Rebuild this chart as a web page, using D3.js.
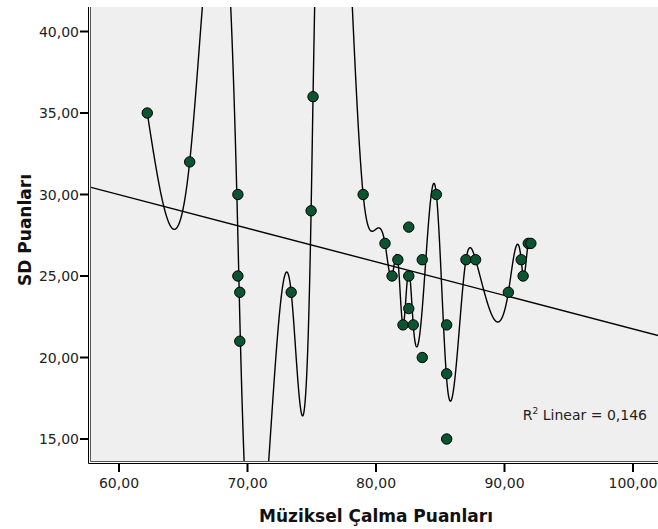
<!DOCTYPE html>
<html>
<head>
<meta charset="utf-8">
<script src="https://cdn.jsdelivr.net/npm/d3@7"></script>
<style>
    body { margin: 0; background: #fff; }
    svg { display: block; }
    .tick-label { font-family: 'DejaVu Sans', sans-serif; font-size: 14px; fill: #222; }
    .axis-title { font-family: 'DejaVu Sans', sans-serif; font-size: 17px; font-weight: bold; fill: #111; }
</style>
</head>
<body>
<script>

// Müziksel Çalma Puanları (x) and SD Puanları (y), one entry per student.
const playingScores = [62.2, 65.5, 69.25, 69.25, 69.4, 69.4, 73.4, 74.95, 75.1, 79.0, 80.7, 81.25, 81.7, 82.1,
    82.55, 82.55, 82.55, 82.9, 83.6, 83.6, 84.7, 85.5, 85.5, 85.5, 87.0, 87.75, 90.3, 91.3, 91.45, 91.85, 92.05];
const sdScores = [35, 32, 30, 25, 24, 21, 24, 29, 36, 30, 27, 25, 26, 22,
    28, 25, 23, 22, 26, 20, 30, 22, 19, 15, 26, 26, 24, 26, 25, 27, 27];

const xTicks = [60, 70, 80, 90, 100];
const yTicks = [15, 20, 25, 30, 35, 40];
const rSquaredLabel = '0,146';

const width = 658;
const height = 529;

const plot = { left: 90, right: 660, top: 7, bottom: 462 };

const x = d3.scaleLinear().domain([60, 100]).range([119, 633]);
const y = d3.scaleLinear().domain([15, 40]).range([439, 31.5]);

const fmt = v => d3.format('.2f')(v).replace('.', ',');

/**
 * Natural cubic spline through knots (duplicate x values averaged).
 * @param {Array} xs
 * @param {Array} ys
 * @return {Function}
 */
const naturalSpline = (xs, ys) => {

    const groups = d3.rollups(xs.map((v, i) => [v, ys[i]]), g => d3.mean(g, d => d[1]), d => d[0])
        .sort((a, b) => a[0] - b[0]);

    const kx = groups.map(d => d[0]);
    const ky = groups.map(d => d[1]);
    const n = kx.length - 1;

    const h = d3.range(n).map(i => kx[i + 1] - kx[i]);

    // Tridiagonal system for the second derivatives, ends held at zero.
    const a = new Array(n + 1).fill(0);
    const b = new Array(n + 1).fill(1);
    const c = new Array(n + 1).fill(0);
    const r = new Array(n + 1).fill(0);

    for (let i = 1; i < n; i++) {
        a[i] = h[i - 1];
        b[i] = 2 * (h[i - 1] + h[i]);
        c[i] = h[i];
        r[i] = 6 * ((ky[i + 1] - ky[i]) / h[i] - (ky[i] - ky[i - 1]) / h[i - 1]);
    }

    for (let i = 1; i <= n; i++) {
        const m = a[i] / b[i - 1];
        b[i] -= m * c[i - 1];
        r[i] -= m * r[i - 1];
    }

    const M = new Array(n + 1).fill(0);
    M[n] = r[n] / b[n];
    for (let i = n - 1; i >= 0; i--) M[i] = (r[i] - c[i] * M[i + 1]) / b[i];

    const f = t => {
        let i = Math.min(n - 1, Math.max(0, d3.bisectRight(kx, t) - 1));
        const hi = h[i];
        const u = kx[i + 1] - t;
        const v = t - kx[i];
        return M[i] * u * u * u / (6 * hi) + M[i + 1] * v * v * v / (6 * hi)
            + (ky[i] / hi - M[i] * hi / 6) * u + (ky[i + 1] / hi - M[i + 1] * hi / 6) * v;
    };

    f.domain = [kx[0], kx[n]];
    f.knots = kx;

    return f;

};

const svg = d3.select('body').append('svg').attr('width', width).attr('height', height);

svg.append('defs').append('clipPath').attr('id', 'plot-clip')
    .append('rect')
    .attr('x', plot.left).attr('y', plot.top)
    .attr('width', plot.right - plot.left).attr('height', plot.bottom - plot.top);

// Plot background.
svg.append('rect')
    .attr('x', plot.left).attr('y', plot.top)
    .attr('width', plot.right - plot.left).attr('height', plot.bottom - plot.top)
    .attr('fill', '#efefef');

const inner = svg.append('g').attr('clip-path', 'url(#plot-clip)');

// Least squares line.
const mx = d3.mean(playingScores);
const my = d3.mean(sdScores);
const slope = d3.sum(playingScores, (v, i) => (v - mx) * (sdScores[i] - my)) / d3.sum(playingScores, v => (v - mx) ** 2);
const intercept = my - slope * mx;
const [x0, x1] = [x.invert(plot.left), x.invert(plot.right)];

inner.append('line')
    .attr('x1', x(x0)).attr('y1', y(intercept + slope * x0))
    .attr('x2', x(x1)).attr('y2', y(intercept + slope * x1))
    .attr('stroke', '#000').attr('stroke-width', 1.4);

// Interpolation line through the points.
const spline = naturalSpline(playingScores, sdScores);
const samples = [];
for (let i = 0; i < spline.knots.length - 1; i++) {
    const [s, e] = [spline.knots[i], spline.knots[i + 1]];
    const steps = Math.max(20, Math.ceil((e - s) / 0.004));
    for (let k = 0; k < steps; k++) samples.push(s + (e - s) * k / steps);
}
samples.push(spline.domain[1]);

const line = d3.line()
    .x(d => x(d))
    .y(d => Math.max(-3000, Math.min(3000, y(spline(d)))));

inner.append('path')
    .attr('d', line(samples))
    .attr('fill', 'none')
    .attr('stroke', '#000')
    .attr('stroke-width', 1.4);

inner.selectAll('circle').data(playingScores).join('circle')
    .attr('cx', d => x(d))
    .attr('cy', (d, i) => y(sdScores[i]))
    .attr('r', 5.2)
    .attr('fill', '#0a5530')
    .attr('stroke', '#000')
    .attr('stroke-width', 1);

// Double frame lines on the left and bottom, as SPSS draws them.
const frame = svg.append('g').attr('stroke', '#000').attr('stroke-width', 1).attr('fill', 'none');
frame.append('path').attr('d', `M${plot.left - 1.5},${plot.top}V${plot.bottom + 1.5}H${plot.right}`);
frame.append('path').attr('d', `M${plot.left + 0.5},${plot.top}V${plot.bottom - 0.5}H${plot.right}`).attr('stroke', '#555');

// Y ticks.
svg.append('g').selectAll('line').data(yTicks).join('line')
    .attr('x1', 80).attr('x2', plot.left - 2)
    .attr('y1', d => y(d)).attr('y2', d => y(d))
    .attr('stroke', '#000').attr('stroke-width', 2);

svg.append('g').selectAll('text').data(yTicks).join('text')
    .attr('class', 'tick-label')
    .attr('x', 79).attr('y', d => y(d) + 5)
    .attr('text-anchor', 'end')
    .text(fmt);

// X ticks.
svg.append('g').selectAll('line').data(xTicks).join('line')
    .attr('x1', d => x(d)).attr('x2', d => x(d))
    .attr('y1', plot.bottom + 2).attr('y2', 472)
    .attr('stroke', '#000').attr('stroke-width', 2);

svg.append('g').selectAll('text').data(xTicks).join('text')
    .attr('class', 'tick-label')
    .attr('x', d => x(d)).attr('y', 488)
    .attr('text-anchor', 'middle')
    .text(fmt);

svg.append('text')
    .attr('class', 'axis-title')
    .attr('x', 376).attr('y', 522)
    .attr('text-anchor', 'middle')
    .text('Müziksel Çalma Puanları');

svg.append('text')
    .attr('class', 'axis-title')
    .attr('transform', 'translate(31,230) rotate(-90)')
    .attr('text-anchor', 'middle')
    .text('SD Puanları');

const r2 = svg.append('text')
    .attr('class', 'tick-label')
    .attr('x', 647).attr('y', 420)
    .attr('text-anchor', 'end');
r2.append('tspan').text('R');
r2.append('tspan').attr('font-size', 9).attr('dy', -6).text('2');
r2.append('tspan').attr('dy', 6).text(' Linear = ' + rSquaredLabel);

</script>
</body>
</html>
